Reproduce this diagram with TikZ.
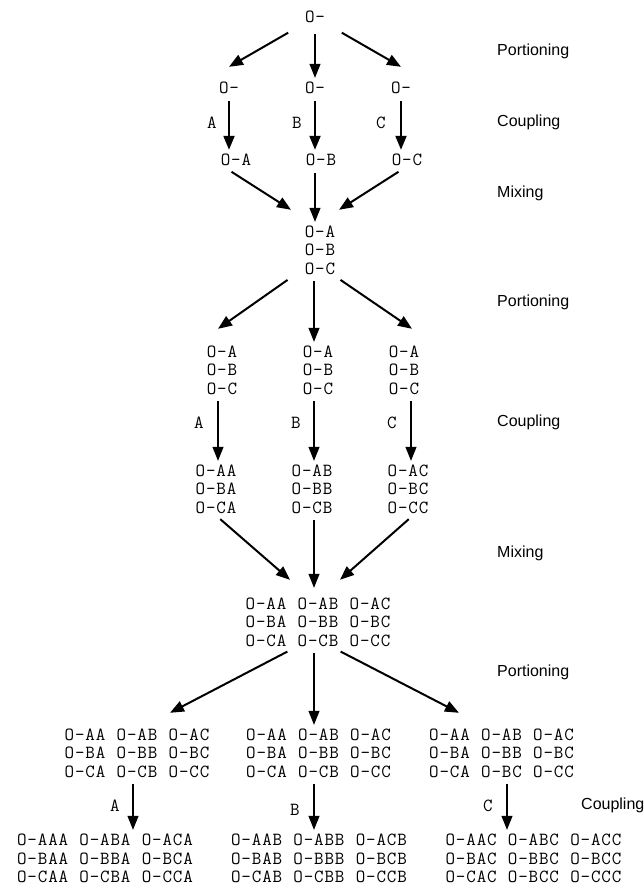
\documentclass[tikz,border=0pt]{standalone}
\usepackage{fontspec}
\setsansfont{Liberation Sans}
\setmonofont[LetterSpace=4.6,WordSpace=1.09]{Latin Modern Mono}
\usetikzlibrary{arrows.meta}
\tikzset{
    %Define standard arrow tip
    >={Triangle[length=14pt,width=11pt]},
    %Define style for compound pools
    pool/.style={
           inner sep=0pt,
           minimum height=56pt,
           align=left,
           font=\fontsize{18.5}{18.6}\selectfont\ttfamily},
    single/.style={
           pool,
           minimum height=20pt},
    %Define style for building blocks
    unit/.style={
           inner sep=0pt,
           font=\fontsize{18.5}{18.6}\selectfont\ttfamily},
    %Define style for stage names
    stage/.style={
           anchor=west,
           inner sep=0pt,
           font=\fontsize{16}{18}\selectfont\sffamily},
    % Define arrow styles
    heavy/.style={
           ->,
           line width=2pt,
           shorten <=3pt},
    light/.style={
           ->,
           line width=1.1pt,
           shorten <=3pt}
}
\begin{document}
\begin{tikzpicture}[x=1pt,y=-1pt]
\useasboundingbox (0,0) rectangle (643,886);
% first round
\node[single, minimum height=28pt, minimum width=48pt](o) at (315,17){O-};
\node[single](a1) at (229,88){O-};
\node[single](b1) at (315,88){O-};
\node[single](c1) at (401,88){O-};
\node[unit](ra1) at (212,123){A};
\node[unit](rb1) at (297,123){B};
\node[unit](rc1) at (381,123){C};
\node[single](a2) at (236,160){O-A};
\node[single](b2) at (321,160){O-B};
\node[single](c2) at (407,160){O-C};
\node[pool](m1) at (320,250){O-A\\O-B\\O-C};
% second round
\node[pool](a3) at (222,370){O-A\\O-B\\O-C};
\node[pool](b3) at (318,370){O-A\\O-B\\O-C};
\node[pool](c3) at (404,370){O-A\\O-B\\O-C};
\node[unit](ra2) at (199,423){A};
\node[unit](rb2) at (296,423){B};
\node[unit](rc2) at (392,423){C};
\node[pool](a4) at (216,489){O-AA\\O-BA\\O-CA};
\node[pool](b4) at (312,489){O-AB\\O-BB\\O-CB};
\node[pool](c4) at (408,489){O-AC\\O-BC\\O-CC};
\node[pool](m2) at (318,622){O-AA O-AB O-AC\\O-BA O-BB O-BC\\O-CA O-CB O-CC};
% third round
\node[pool](a5) at (137,753){O-AA O-AB O-AC\\O-BA O-BB O-BC\\O-CA O-CB O-CC};
\node[pool](b5) at (318.5,753){O-AA O-AB O-AC\\O-BA O-BB O-BC\\O-CA O-CB O-CC};
\node[pool](c5) at (501.5,753){O-AA O-AB O-AC\\O-BA O-BB O-BC\\O-CA O-BC O-CC};
\node[unit](ra3) at (115,806){A};
\node[unit](rb3) at (295,810){B};
\node[unit](rc3) at (488,806){C};
\node[pool, minimum height=45pt](a6) at (105,858.5){O-AAA O-ABA O-ACA\\O-BAA O-BBA O-BCA\\O-CAA O-CBA O-CCA};
\node[pool, minimum height=45pt](b6) at (319,858.5){O-AAB O-ABB O-ACB\\O-BAB O-BBB O-BCB\\O-CAB O-CBB O-CCB};
\node[pool, minimum height=45pt](c6) at (533.5,858.5){O-AAC O-ABC O-ACC\\O-BAC O-BBC O-BCC\\O-CAC O-BCC O-CCC};
% stage names
\node[stage](s1) at (497,51){Portioning};
\node[stage](s2) at (497,122){Coupling};
\node[stage](s3) at (497,193){Mixing};
\node[stage](s4) at (497,302){Portioning};
\node[stage](s5) at (497,422){Coupling};
\node[stage](s6) at (497,553){Mixing};
\node[stage](s7) at (497,672){Portioning};
\node[stage](s8) at (581,805){Coupling};
\path[heavy]
	(o.south west) edge ([yshift=11pt]a1.north)
	(o.south east) edge ([yshift=11pt]c1.north)
	(a1.south) edge (a1.south |- a2.north)
	(b1.south) edge (b1.south |- b2.north)
	(c1.south) edge (c1.south |- c2.north)
	(a1.south |- a2.south) edge ([xshift=-29pt,yshift=12pt]m1.north)
	(c1.south |- c2.south) edge ([xshift=19pt,yshift=12pt]m1.north)
	([xshift=-30pt]m1.south) edge ([xshift=-4pt,yshift=13pt]a3.north)
	([xshift=18pt]m1.south) edge ([xshift=8pt,yshift=13pt]c3.north)
	([xshift=2pt]a4.south) edge ([xshift=-28pt,yshift=14pt]m2.north)
	([xshift=3pt]c4.south) edge ([xshift=22pt,yshift=14pt]m2.north)
	([xshift=-28pt]m2.south) edge ([xshift=33pt,yshift=12pt]a5.north)
	([xshift=20pt]m2.south) edge ([xshift=-42.5pt,yshift=12pt]c5.north);
\path[light]
	(o.south) edge (b1.north)
	(b1.south |- b2.south) edge ([xshift=-5pt]m1.north)
	([xshift=-6pt]m1.south) edge ([xshift=-4pt]b3.north)
	([xshift=-4pt]a3.south) edge ([xshift=2pt]a4.north)
	([xshift=-4pt]b3.south) edge ([xshift=2pt]b4.north)
	([xshift=7pt]c3.south) edge ([xshift=3pt]c4.north)
	([xshift=2pt]b4.south) edge ([xshift=-4pt,yshift=6pt]m2.north)
	([xshift=-4pt]m2.south) edge ([xshift=-4.5pt]b5.north)
	([xshift=-4pt]a5.south) edge ([xshift=28pt,yshift=4pt]a6.north)
	([xshift=-4.5pt]b5.south) edge ([xshift=-5pt,yshift=4pt]b6.north)
	([xshift=5.5pt]c5.south) edge ([xshift=-26.5pt,yshift=4pt]c6.north);
\end{tikzpicture}
\end{document}
